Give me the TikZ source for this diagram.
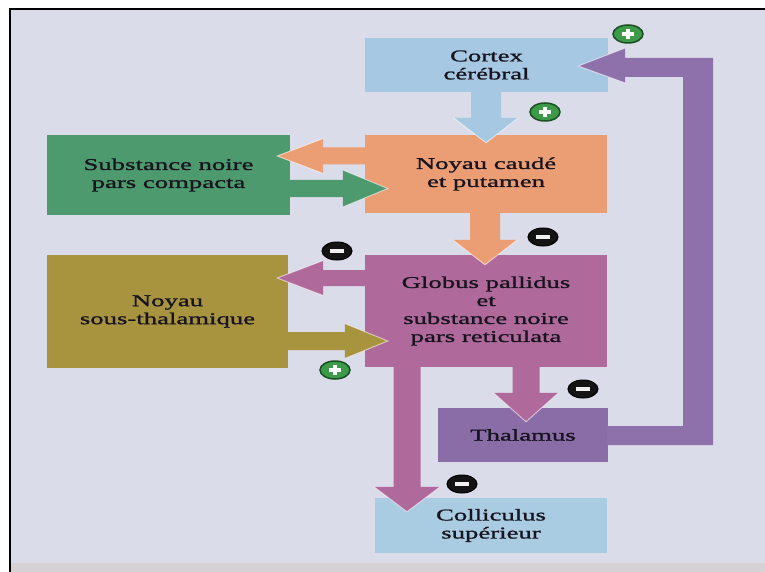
\documentclass[tikz,border=0pt]{standalone}
\usepackage{fontspec}
\setmainfont[FakeStretch=1.62,FakeBold=1.3]{Liberation Serif}
\usetikzlibrary{shapes.geometric,calc}

\definecolor{paper}{HTML}{DBDCE9}
\definecolor{strip}{HTML}{D6D1D5}
\definecolor{cortexblue}{HTML}{A7C8E2}
\definecolor{caudate}{HTML}{EB9E74}
\definecolor{nigra}{HTML}{4E9A6F}
\definecolor{pallidum}{HTML}{B0699B}
\definecolor{stncol}{HTML}{A8933F}
\definecolor{thalcol}{HTML}{8A6CA6}
\definecolor{loopcol}{HTML}{8E70AB}
\definecolor{collcol}{HTML}{A9CCE2}
\definecolor{inkdark}{HTML}{17141F}
\definecolor{plusgreen}{HTML}{3D9A48}
\definecolor{plusdark}{HTML}{1A4F22}

% vertical block arrow: colour, x, source, target, tip depth, shaft half width, head half width, head length
\newcommand\flowdown[8]{%
  \fill[#1] let \p1=(#3.south), \p2=(#4.north) in
    ({#2pt-#6pt},{\y1+1pt}) -- ({#2pt-#6pt},{\y2-#5pt+#8pt}) -- ({#2pt-#7pt},{\y2-#5pt+#8pt})
    -- (#2pt,{\y2-#5pt}) -- ({#2pt+#7pt},{\y2-#5pt+#8pt}) -- ({#2pt+#6pt},{\y2-#5pt+#8pt})
    -- ({#2pt+#6pt},{\y1+1pt}) -- cycle;
  \draw[halo] let \p2=(#4.north) in
    ({#2pt-#7pt},{\y2-#5pt+#8pt}) -- (#2pt,{\y2-#5pt}) -- ({#2pt+#7pt},{\y2-#5pt+#8pt});
}
% horizontal block arrow pointing left: colour, y, source, target, tip depth, shaft half, head half, head length
\newcommand\flowleft[8]{%
  \fill[#1] let \p1=(#3.west), \p2=(#4.east) in
    ({\x1+1pt},{-#2pt+#6pt}) -- ({\x2-#5pt+#8pt},{-#2pt+#6pt}) -- ({\x2-#5pt+#8pt},{-#2pt+#7pt})
    -- ({\x2-#5pt},-#2pt) -- ({\x2-#5pt+#8pt},{-#2pt-#7pt}) -- ({\x2-#5pt+#8pt},{-#2pt-#6pt})
    -- ({\x1+1pt},{-#2pt-#6pt}) -- cycle;
  \draw[halo] let \p2=(#4.east) in
    ({\x2-#5pt+#8pt},{-#2pt+#7pt}) -- ({\x2-#5pt},-#2pt) -- ({\x2-#5pt+#8pt},{-#2pt-#7pt});
}
% horizontal block arrow pointing right
\newcommand\flowright[8]{%
  \fill[#1] let \p1=(#3.east), \p2=(#4.west) in
    ({\x1-1pt},{-#2pt+#6pt}) -- ({\x2+#5pt-#8pt},{-#2pt+#6pt}) -- ({\x2+#5pt-#8pt},{-#2pt+#7pt})
    -- ({\x2+#5pt},-#2pt) -- ({\x2+#5pt-#8pt},{-#2pt-#7pt}) -- ({\x2+#5pt-#8pt},{-#2pt-#6pt})
    -- ({\x1-1pt},{-#2pt-#6pt}) -- cycle;
  \draw[halo] let \p2=(#4.west) in
    ({\x2+#5pt-#8pt},{-#2pt+#7pt}) -- ({\x2+#5pt},-#2pt) -- ({\x2+#5pt-#8pt},{-#2pt-#7pt});
}

\begin{document}
\begin{tikzpicture}[x=1pt,y=-1pt,
  box/.style={rectangle, inner sep=0pt, align=center, text=inkdark,
    font=\fontsize{16.5}{18}\selectfont},
  halo/.style={white, opacity=0.55, line width=1pt, line join=miter},
  sign/.style={ellipse, minimum width=30pt, minimum height=18pt, inner sep=0pt},
  inhibit/.style={sign, fill=black!92, draw=black, line width=1pt,
    path picture={\fill[white!88!gray]
      ([xshift=-7pt,yshift=-1.8pt]path picture bounding box.center) rectangle
      ([xshift=7pt,yshift=1.8pt]path picture bounding box.center);}},
  excite/.style={sign, fill=plusgreen, draw=plusdark, line width=1.5pt,
    path picture={\fill[white]
      ([xshift=-6pt,yshift=-1.7pt]path picture bounding box.center) rectangle
      ([xshift=6pt,yshift=1.7pt]path picture bounding box.center);
      \fill[white]
      ([xshift=-1.8pt,yshift=-5pt]path picture bounding box.center) rectangle
      ([xshift=1.8pt,yshift=5pt]path picture bounding box.center);}}]

% page, panel and frame
\useasboundingbox (0,0) rectangle (765,572);
\fill[white] (0,0) rectangle (765,572);
\fill[paper] (10,9) rectangle (765,563);
\fill[strip] (10,563) rectangle (765,572);
\draw[black, line width=2pt] (10,572) -- (10,9) -- (765,9);

% structures
\node[box, fill=cortexblue, minimum width=243pt, minimum height=54pt] (cortex) at (486.5,65) {Cortex\\cérébral};
\node[box, fill=caudate, minimum width=242pt, minimum height=78pt] (caude) at (486,174) {Noyau caudé\\et putamen};
\node[box, fill=nigra, minimum width=243pt, minimum height=80pt] (snc) at (168.5,175) {Substance noire\\pars compacta};
\node[box, fill=pallidum, minimum width=242pt, minimum height=112pt] (gp) at (486,311) {Globus pallidus\\et\\substance noire\\pars reticulata};
\node[box, fill=stncol, minimum width=241pt, minimum height=113pt] (stn) at (167.5,311.5) {Noyau\\sous-thalamique};
\node[box, fill=thalcol, minimum width=170pt, minimum height=54pt] (thal) at (523,435) {Thalamus};
\node[box, fill=collcol, minimum width=232pt, minimum height=55pt] (coll) at (491,525.5) {Colliculus\\supérieur};

% projections
\flowdown{cortexblue}{486}{cortex}{caude}{8}{15}{32.5}{25}
\flowdown{caudate}{485}{caude}{gp}{10}{15}{32.5}{25}
\flowdown{pallidum}{526}{gp}{thal}{14}{13.5}{32.5}{29}
\flowdown{pallidum}{407}{gp}{coll}{14}{13.5}{33}{25}
\flowleft{caudate}{156}{caude}{snc}{13}{8.5}{17.5}{46}
\flowright{nigra}{188.5}{snc}{caude}{23}{8.5}{18.5}{45}
\flowleft{pallidum}{278}{gp}{stn}{11}{8}{17.5}{46}
\flowright{stncol}{341}{stn}{gp}{23}{9}{17.5}{43}

% thalamo-cortical loop
\fill[loopcol] let \p1=(thal.east), \p2=(cortex.east) in
  ({\x1-1pt},{\y1+9pt}) -- (683pt,{\y1+9pt}) -- (683pt,{\y2-12pt}) -- ({\x2+17pt},{\y2-12pt})
  -- ({\x2+17pt},{\y2-18pt}) -- ({\x2-30pt},{\y2-1pt}) -- ({\x2+17pt},{\y2+17pt})
  -- ({\x2+17pt},{\y2+7pt}) -- (713pt,{\y2+7pt}) -- (713pt,{\y1-10pt}) -- ({\x1-1pt},{\y1-10pt}) -- cycle;
\draw[halo] let \p2=(cortex.east) in
  ({\x2+17pt},{\y2-18pt}) -- ({\x2-30pt},{\y2-1pt}) -- ({\x2+17pt},{\y2+17pt});

% synaptic signs
\node[excite] (s1) at (628,34) {};
\node[excite] (s2) at (545,112) {};
\node[inhibit] (s3) at (543,237) {};
\node[inhibit] (s4) at (337,251) {};
\node[excite] (s5) at (335,370) {};
\node[inhibit] (s6) at (583,389) {};
\node[inhibit] (s7) at (462,484) {};
\end{tikzpicture}
\end{document}
